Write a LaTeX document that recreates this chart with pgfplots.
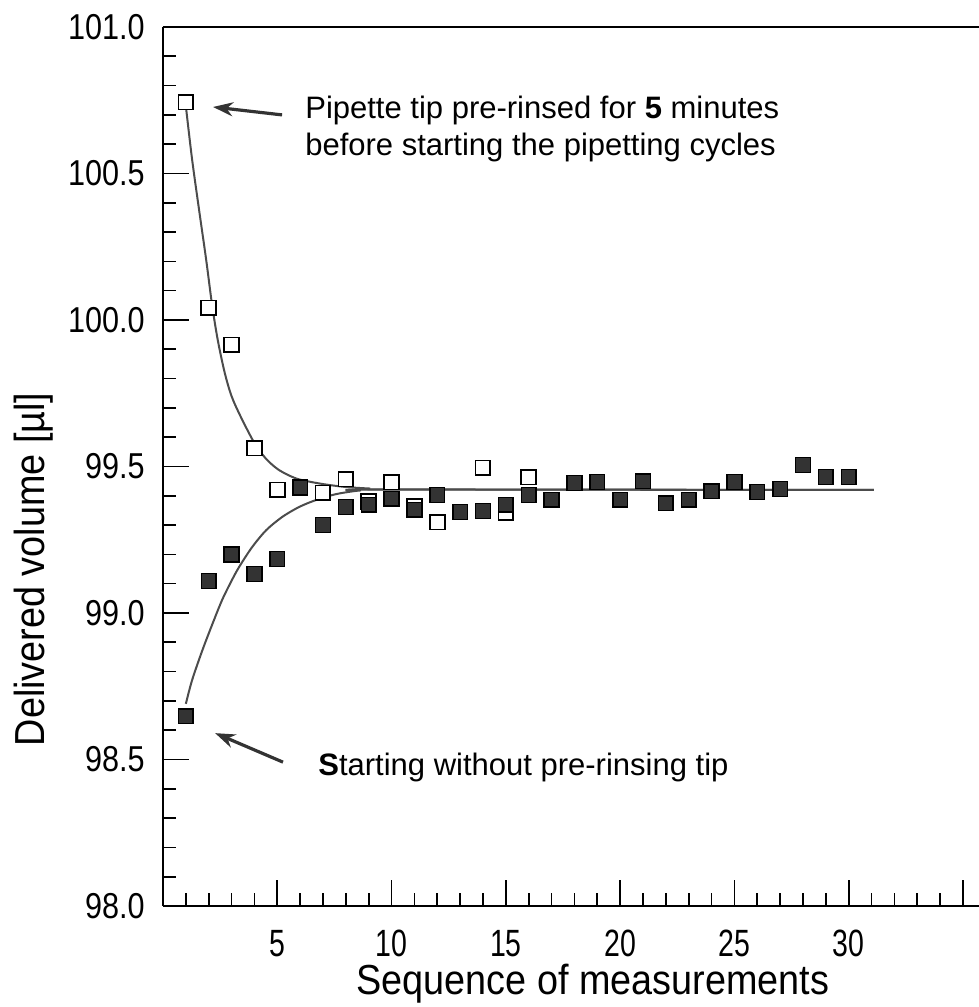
\documentclass[border=0pt]{standalone}
\usepackage{fontspec}
\setmainfont{Liberation Sans}
\newfontfamily\ytickfont{Liberation Sans}[FakeStretch=0.85]
\newfontfamily\xtickfont{Liberation Sans}[FakeStretch=0.75]
\newfontfamily\labelfont{Liberation Sans}[FakeStretch=0.9]
\usepackage{pgfplots}
\pgfplotsset{compat=1.18}
\usetikzlibrary{arrows.meta}

\begin{document}
\begin{tikzpicture}
\begin{axis}[
  scale only axis, width=408pt, height=439.5pt,
  xmin=0, xmax=35.7, ymin=98, ymax=101,
  axis x line*=box, axis y line*=left,
  axis line style={line width=1.3pt, black},
  xtick={5,10,...,30}, extra x ticks={35}, extra x tick labels={},
  minor xtick={1,...,36},
  ytick={98,98.5,...,101},
  minor ytick={98.1,98.2,...,100.95},
  xtick pos=left, ytick pos=left,
  tick align=inside,
  major tick length=13pt, minor tick length=6.5pt,
  tick style={black, line width=0.8pt},
  /pgf/number format/assume math mode=true,
  yticklabel style={font=\ytickfont\fontsize{18}{18}\selectfont, inner sep=0pt, anchor=east, xshift=-9pt,
    /pgf/number format/fixed, /pgf/number format/fixed zerofill, /pgf/number format/precision=1},
  xticklabel style={font=\xtickfont\fontsize{19}{19}\selectfont, inner sep=0pt, anchor=base, yshift=-25pt},
  xlabel={Sequence of measurements},
  ylabel={Delivered volume [µl]},
  every axis x label/.style={at={(axis description cs:0.527,-0.0885)}, anchor=center, inner sep=0pt, font=\labelfont\fontsize{21}{21}\selectfont},
  every axis y label/.style={at={(axis description cs:-0.159,0.383)}, rotate=90, anchor=center, inner sep=0pt, font=\labelfont\fontsize{21}{21}\selectfont},
]
% fitted curves
\addplot[smooth, line width=1pt, black!70, no markers] coordinates {
 (1.0,100.73) (1.27,100.55) (1.58,100.375) (1.89,100.205) (2.15,100.05)
 (2.4,99.93) (2.7,99.82) (3.0,99.74) (3.4,99.67) (4.0,99.58) (4.5,99.527)
 (5.0,99.492) (5.5,99.47) (6.0,99.455) (7.0,99.44) (8.0,99.43) (9.0,99.425)
 (10.0,99.422) (31.1,99.42)
};
\addplot[smooth, line width=1pt, black!70, no markers] coordinates {
 (1.0,98.69) (1.27,98.77) (1.71,98.87) (2.15,98.96) (2.59,99.045)
 (3.0,99.11) (3.33,99.157) (3.90,99.225) (4.52,99.283) (5.22,99.328) (5.96,99.362)
 (6.71,99.386) (7.59,99.406) (8.6,99.418) (9.6,99.421) (31.1,99.42)
};
% pre-rinsed tip (open squares)
\addplot[only marks, mark=square*, mark size=3.7pt, mark options={fill=white, draw=black, line width=0.9pt}] coordinates {
 (1,100.744) (2,100.041) (3,99.915) (4,99.563) (5,99.420) (6,99.43) (7,99.410)
 (8,99.457) (9,99.38) (10,99.447) (11,99.364) (12,99.31) (13,99.345) (14,99.495)
 (15,99.343) (16,99.464)
};
% without pre-rinsing (filled squares)
\addplot[only marks, mark=square*, mark size=3.7pt, mark options={fill=black!80, draw=black, line width=0.8pt}] coordinates {
 (1,98.648) (2,99.109) (3,99.20) (4,99.133) (5,99.184) (6,99.427) (7,99.30)
 (8,99.362) (9,99.369) (10,99.39) (11,99.352) (12,99.403) (13,99.345) (14,99.348)
 (15,99.369) (16,99.403) (17,99.386) (18,99.444) (19,99.447) (20,99.386)
 (21,99.450) (22,99.375) (23,99.386) (24,99.416) (25,99.447) (26,99.413)
 (27,99.423) (28,99.505) (29,99.464) (30,99.464)
};
% annotations
\draw[-{Stealth[length=10pt,width=7pt]}, line width=1.6pt, black!80] (axis cs:5.21,100.70) -- (axis cs:2.19,100.727);
\draw[-{Stealth[length=10pt,width=7pt]}, line width=1.6pt, black!80] (axis cs:5.25,98.491) -- (axis cs:2.28,98.590);
\node[anchor=base west, inner sep=0pt, font=\fontsize{15.5}{15.5}\selectfont] at (axis cs:6.21,100.689) {Pipette tip pre-rinsed for \textbf{5} minutes};
\node[anchor=base west, inner sep=0pt, font=\fontsize{15.5}{15.5}\selectfont] at (axis cs:6.21,100.563) {before starting the pipetting cycles};
\node[anchor=base west, inner sep=0pt, font=\fontsize{15.5}{15.5}\selectfont] at (axis cs:6.78,98.447) {\textbf{S}tarting without pre-rinsing tip};
\coordinate (sw) at (rel axis cs:0,0);
\coordinate (ne) at (rel axis cs:1,1);
\end{axis}
\pgfresetboundingbox
\path[use as bounding box] ([shift={(-81.5pt,-50.5pt)}]sw) rectangle ([shift={(0pt,13.5pt)}]ne);
\end{tikzpicture}
\end{document}
